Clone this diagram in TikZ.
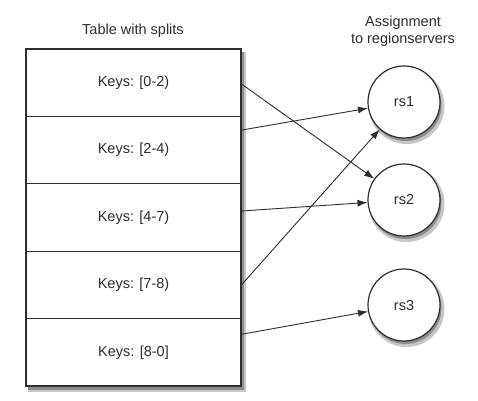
\documentclass[tikz,border=0pt]{standalone}
\usepackage{fontspec}
\setmainfont{Liberation Sans}
\usetikzlibrary{arrows.meta}
\definecolor{ink}{HTML}{2E2E2E}
\tikzset{
  x=1pt,y=-1pt,
  every node/.style={font=\fontsize{14.5}{16}\selectfont, text=ink},
  rowbox/.style={draw=ink, line width=1pt, minimum width=215pt, minimum height=67.4pt, inner sep=0pt},
  tablebox/.style={draw=ink, line width=1.4pt, fill=white, minimum width=215pt, minimum height=337pt, inner sep=0pt},
  server/.style={circle, draw=ink, line width=1.2pt, fill=white, minimum size=72pt, inner sep=0pt},
  shadowa/.style={fill=black!22},
  shadowb/.style={fill=black!45},
  arr/.style={draw=ink, line width=0.9pt, -{Latex[length=10pt,width=7pt]}},
  title/.style={align=center, font=\fontsize{14.5}{17}\selectfont}
}
\begin{document}
\begin{tikzpicture}
\fill[white] (0,0) rectangle (478,400);
\useasboundingbox (0,0) rectangle (478,400);
% shadows
\fill[shadowa] (28,52) rectangle (246,392);
\fill[shadowb] (28,52) rectangle (244,389.5);
\fill[shadowa] (406.5,106) circle (38);
\fill[shadowb] (405.5,105) circle (36);
\fill[shadowa] (406.5,204) circle (38);
\fill[shadowb] (405.5,203) circle (36);
\fill[shadowa] (406.5,309) circle (38);
\fill[shadowb] (405.5,308) circle (36);
% table
\node[tablebox] (tbl) at (133.5,217.5) {};
\node[rowbox] (r0) at (133.5,82.7) {Keys: [0-2)};
\node[rowbox] (r1) at (133.5,150.1) {Keys: [2-4)};
\node[rowbox] (r2) at (133.5,217.5) {Keys: [4-7)};
\node[rowbox] (r3) at (133.5,284.9) {Keys: [7-8)};
\node[rowbox] (r4) at (133.5,352.3) {Keys: [8-0]};
\draw[draw=ink, line width=1.4pt] (tbl.south west) rectangle (tbl.north east);
\node[title] (t1) at (133,31) {Table with splits};
\node[title] (t2) at (403,31) {Assignment\\to regionservers};
\node[server] (rs1) at (404,102) {rs1};
\node[server] (rs2) at (404,200) {rs2};
\node[server] (rs3) at (404,305) {rs3};
\draw[arr] ([yshift=-1.3pt]r0.east) -- (rs2);
\draw[arr] ([yshift=20pt]r1.east) -- (rs1);
\draw[arr] ([yshift=6.5pt]r2.east) -- (rs2);
\draw[arr] (r3.east) -- (rs1);
\draw[arr] ([yshift=18pt]r4.east) -- (rs3);
\end{tikzpicture}
\end{document}
